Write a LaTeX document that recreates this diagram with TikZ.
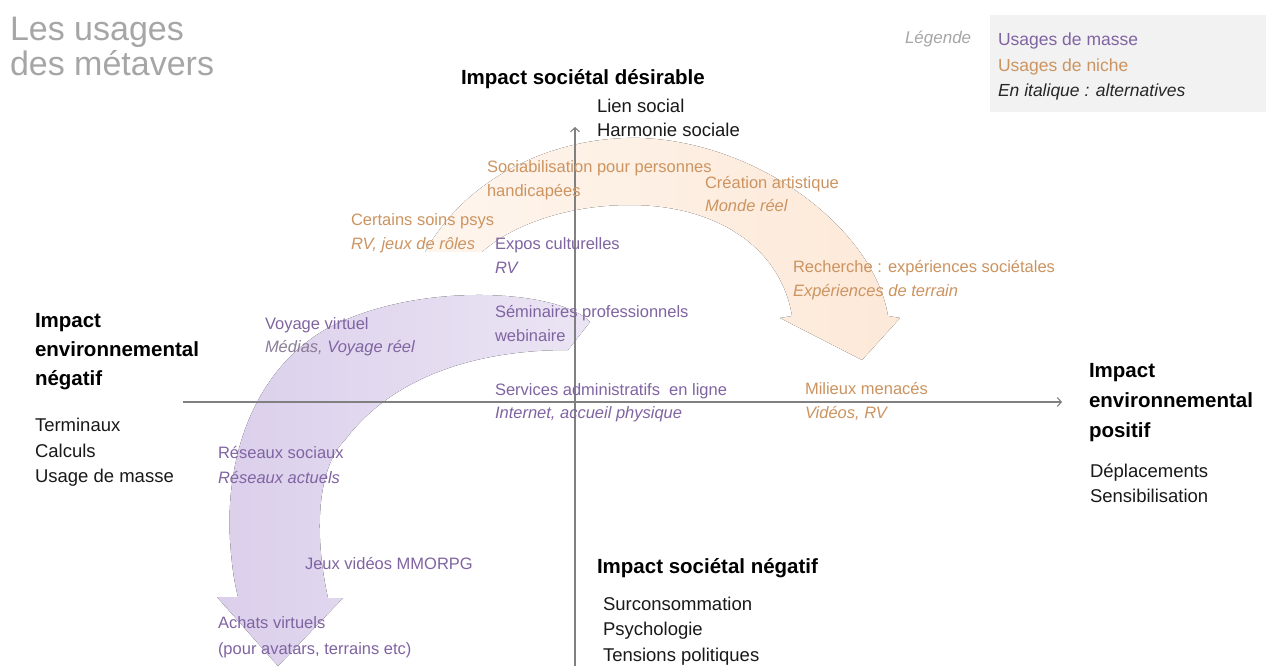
\documentclass[tikz,border=0pt]{standalone}
\usepackage{fontspec}
\setmainfont{Liberation Sans}
\usetikzlibrary{arrows.meta}
\definecolor{mpurple}{HTML}{8064A2}
\definecolor{mgraypurple}{HTML}{8A7D99}
\definecolor{morange}{HTML}{CC9460}
\definecolor{purpleband}{HTML}{DBCFEB}
\definecolor{orangeband}{HTML}{FCE3CE}
\definecolor{axisgray}{HTML}{808080}
\definecolor{titlegray}{HTML}{A6A6A6}
\definecolor{legendgray}{HTML}{F2F2F2}
\newcommand\cfsz{\fontsize{16.5}{20}\selectfont}
\newcommand\bfsz{\fontsize{18.5}{22}\selectfont}
\newcommand\hfsz{\fontsize{20.5}{24}\selectfont\bfseries}
\begin{document}
\begin{tikzpicture}[x=1pt,y=-1pt,
  txt/.style={anchor=base west, inner sep=0pt, outer sep=0pt},
  pur/.style={txt, text=mpurple, font=\cfsz},
  puri/.style={txt, text=mpurple, font=\cfsz\itshape},
  nic/.style={txt, text=morange, font=\cfsz},
  nici/.style={txt, text=morange, font=\cfsz\itshape},
  head/.style={txt, text=black, font=\hfsz},
  body/.style={txt, text=black!90, font=\bfsz},
  axis/.style={draw=axisgray, line width=1.1pt, -{Straight Barb[length=4pt,width=9pt]}},
  legtxt/.style={txt, font=\fontsize{17.5}{21}\selectfont}
]
\useasboundingbox (0,0) rectangle (1266,668);
\fill[white] (0,0) rectangle (1266,668);

% bands
\fill[left color=orangeband!35!white, middle color=orangeband, right color=orangeband!80!white]
  (425,252) .. controls (470,172) and (560,136) .. (640,138)
  .. controls (760,142) and (874,230) .. (888,316)
  -- (900,318) -- (862,360) -- (780,318) -- (792,316)
  .. controls (782,252) and (722,205) .. (630,205)
  .. controls (562,205) and (508,228) .. (482,252) -- cycle;

\fill[left color=purpleband, middle color=purpleband, right color=purpleband!55!white]
  (590,322) .. controls (560,290) and (420,280) .. (328,328)
  .. controls (258,367) and (225,450) .. (230,540)
  .. controls (232,570) and (235,585) .. (238,597)
  -- (217,597) -- (278,666) -- (343,598) -- (328,598)
  .. controls (315,540) and (315,470) .. (345,440)
  .. controls (390,380) and (470,350) .. (568,350) -- cycle;

% axes
\coordinate (hl) at (183,402);
\coordinate (hr) at (1062,402);
\coordinate (vb) at (575,666);
\coordinate (vt) at (575,127);
\draw[axis] (hl) -- (hr);
\draw[axis] (vb) -- (vt);

% title
\node[txt, text=titlegray, font=\fontsize{34}{40}\selectfont] (t1) at (10,41) {Les usages};
\node[txt, text=titlegray, font=\fontsize{34}{40}\selectfont] (t2) at (10,76) {des métavers};

% legend
\node[fill=legendgray, minimum width=276pt, minimum height=97pt, inner sep=0pt, anchor=north west] (legbox) at (990,15) {};
\node[legtxt, text=titlegray, font=\fontsize{17}{21}\selectfont\itshape] (leg) at (905,44) {Légende};
\node[legtxt, text=mpurple] (leg1) at (998,46) {Usages de masse};
\node[legtxt, text=morange] (leg2) at (998,72) {Usages de niche};
\node[legtxt, text=black!85, font=\fontsize{17.5}{21}\selectfont\itshape] (leg3) at (998,97) {En italique : alternatives};

% top
\node[head] (th) at (461,85) {Impact sociétal désirable};
\node[body] (tb1) at (597,113) {Lien social};
\node[body] (tb2) at (597,137) {Harmonie sociale};

% left
\node[head] (lh1) at (35,327) {Impact};
\node[head] (lh2) at (35,356) {environnemental};
\node[head] (lh3) at (35,385) {négatif};
\node[body] (lb1) at (35,431) {Terminaux};
\node[body] (lb2) at (35,457) {Calculs};
\node[body] (lb3) at (35,482) {Usage de masse};

% right
\node[head] (rh1) at (1089,377) {Impact};
\node[head] (rh2) at (1089,407) {environnemental};
\node[head] (rh3) at (1089,437) {positif};
\node[body] (rb1) at (1090,477) {Déplacements};
\node[body] (rb2) at (1090,502) {Sensibilisation};

% bottom
\node[head] (bh) at (597,573) {Impact sociétal négatif};
\node[body] (bb1) at (603,610) {Surconsommation};
\node[body] (bb2) at (603,635) {Psychologie};
\node[body] (bb3) at (603,661) {Tensions politiques};

% niche usages
\node[nic] (n1a) at (487,173) {Sociabilisation pour personnes};
\node[nic] (n1b) at (487,197) {handicapées};
\node[nic] (n2a) at (705,189) {Création artistique};
\node[nici] (n2b) at (705,212) {Monde réel};
\node[nic] (n3a) at (351,226) {Certains soins psys};
\node[nici] (n3b) at (351,250) {RV, jeux de rôles};
\node[nic] (n4a) at (793,273) {Recherche : expériences sociétales};
\node[nici] (n4b) at (793,297) {Expériences de terrain};
\node[nic] (n5a) at (805,394) {Milieux menacés};
\node[nici] (n5b) at (805,418) {Vidéos, RV};

% mass usages
\node[pur] (m1a) at (495,250) {Expos culturelles};
\node[puri] (m1b) at (495,274) {RV};
\node[pur] (m2a) at (495,317) {Séminaires professionnels};
\node[pur] (m2b) at (495,341) {webinaire};
\node[pur] (m3a) at (495,395) {Services administratifs\ \ en ligne};
\node[puri] (m3b) at (495,418) {Internet, accueil physique};
\node[pur] (m4a) at (265,329) {Voyage virtuel};
\node[puri] (m4b) at (265,352) {\textcolor{mgraypurple}{Médias,} Voyage réel};
\node[pur] (m5a) at (218,458) {Réseaux sociaux};
\node[puri] (m5b) at (218,483) {Réseaux actuels};
\node[pur] (m6) at (305,569) {Jeux vidéos MMORPG};
\node[pur] (m7a) at (218,628) {Achats virtuels};
\node[pur] (m7b) at (218,654) {(pour avatars, terrains etc)};
\end{tikzpicture}
\end{document}
